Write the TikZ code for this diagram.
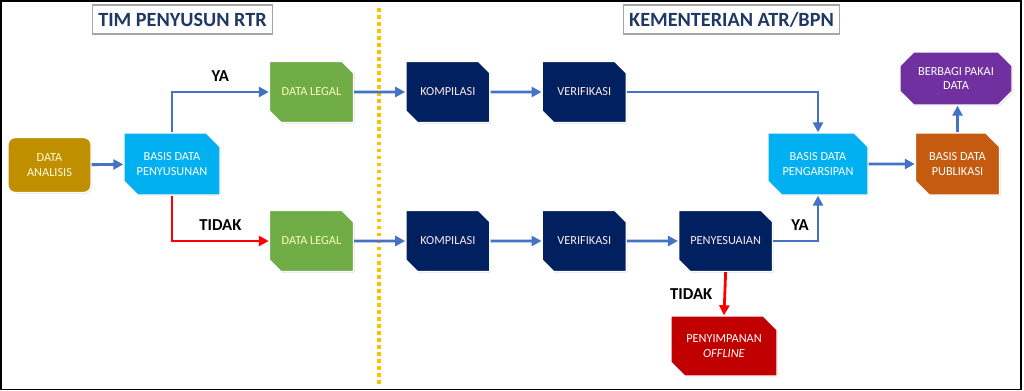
\documentclass[tikz,border=0pt]{standalone}
\usepackage{fontspec}
\setmainfont{Carlito}
\usetikzlibrary{arrows.meta,positioning,shapes.misc,shadows}
\definecolor{emas}{HTML}{BF8F00}
\definecolor{biru}{HTML}{00B0F0}
\definecolor{hijau}{HTML}{70AD47}
\definecolor{navy}{HTML}{002060}
\definecolor{merah}{HTML}{C00000}
\definecolor{oranye}{HTML}{C55A11}
\definecolor{ungu}{HTML}{7030A0}
\definecolor{garis}{HTML}{4472C4}
\definecolor{kuning}{HTML}{FFC000}
\definecolor{judulC}{HTML}{1F3864}
\tikzset{
  blok/.style={chamfered rectangle, chamfered rectangle corners={north east,south west},
               chamfered rectangle xsep=0.16cm, draw=white, line width=0.8pt, fill=#1,
               align=center, font=\fontsize{7}{8.5}\selectfont, text=white,
               minimum width=1.68cm, minimum height=1.22cm, inner sep=1pt,
               drop shadow={opacity=0.25, shadow xshift=0.6pt, shadow yshift=-0.6pt}},
  awal/.style={rectangle, rounded corners=4pt, draw=white, line width=0.8pt, fill=#1,
               align=center, font=\fontsize{7}{8.5}\selectfont, text=white,
               minimum width=1.66cm, minimum height=1.1cm, inner sep=1pt,
               drop shadow={opacity=0.25, shadow xshift=0.6pt, shadow yshift=-0.6pt}},
  judul/.style={rectangle, draw=gray!70, line width=0.8pt, fill=white, text=judulC,
                font=\fontsize{11.5}{13}\selectfont\bfseries, minimum height=0.58cm},
  lbl/.style={font=\fontsize{9.5}{11}\selectfont\bfseries, text=black},
  arr/.style={-{Triangle[length=2mm,width=2mm]}, line width=1.6pt, draw=garis},
  arrno/.style={-{Triangle[length=2mm,width=2mm]}, line width=1.6pt, draw=red},
}

\begin{document}
\begin{tikzpicture}[x=0.02cm, y=-0.02cm, node distance=1.02cm]
  \useasboundingbox (0,0) rectangle (1024,391);
  \draw[line width=0.04cm] (1,1.5) rectangle (1021,389.5);
  \draw[kuning, line width=0.08cm, dash pattern=on 2pt off 2pt] (379,8) -- (379,386);
  % judul
  \node[judul, minimum width=3.54cm] (tim) at (182.5,19.5) {TIM PENYUSUN RTR};
  \node[judul, minimum width=4.26cm] (kem) at (731.5,19.5) {KEMENTERIAN ATR/BPN};
  % tim penyusun
  \node[awal=emas, text=yellow!15] (ana) at (49.5,165) {DATA\\ANALISIS};
  \node[blok=biru, minimum width=1.92cm, minimum height=1.24cm] (bdp) at (172,164) {BASIS DATA\\PENYUSUNAN};
  \node[blok=hijau, text=yellow!25] (dl1) at (311.5,92) {DATA LEGAL};
  \node[blok=hijau, text=yellow!25] (dl2) at (311.5,241) {DATA LEGAL};
  % kementerian
  \node[blok=navy, text=red!8, right=of dl1] (kom1) {KOMPILASI};
  \node[blok=navy, text=red!8, right=of kom1] (ver1) {VERIFIKASI};
  \node[blok=navy, text=red!8, right=of dl2] (kom2) {KOMPILASI};
  \node[blok=navy, text=red!8, right=of kom2] (ver2) {VERIFIKASI};
  \node[blok=navy, text=red!8, minimum width=1.88cm, right=of ver2] (sesuai) {PENYESUAIAN};
  \node[blok=merah, minimum width=2.12cm, minimum height=1.2cm] (simpan) at (724,346) {PENYIMPANAN\\\textit{OFFLINE}};
  \node[blok=biru, minimum width=2cm, minimum height=1.24cm] (arsip) at (818,164) {BASIS DATA\\PENGARSIPAN};
  \node[blok=oranye, minimum height=1.24cm] (publik) at (957.5,164) {BASIS DATA\\PUBLIKASI};
  \node[blok=ungu, chamfered rectangle corners={north east,south west,north west,south east},
        minimum width=2.24cm, minimum height=1.06cm] (bagi) at (956,78.5) {BERBAGI PAKAI\\DATA};
  % alur
  \draw[arr] (ana) -- (bdp);
  \draw[arr] (bdp.north) |- (dl1.west) node[lbl, pos=0.75, above=2pt] {YA};
  \draw[arrno] (bdp.south) |- (dl2.west) node[lbl, pos=0.75, above=2pt] {TIDAK};
  \draw[arr] (dl1) -- (kom1); \draw[arr] (kom1) -- (ver1);
  \draw[arr] (dl2) -- (kom2); \draw[arr] (kom2) -- (ver2); \draw[arr] (ver2) -- (sesuai);
  \draw[arr] (ver1.east) -| (arsip.north);
  \draw[arr] (sesuai.east) -| (arsip.south) node[lbl, pos=0.3, above=2pt] {YA};
  \draw[arrno] (sesuai.south) -- (simpan.north) node[lbl, midway, left=3pt] {TIDAK};
  \draw[arr] (arsip) -- (publik);
  \draw[arr] (publik.north) -- (publik.north |- bagi.south);
\end{tikzpicture}
\end{document}
